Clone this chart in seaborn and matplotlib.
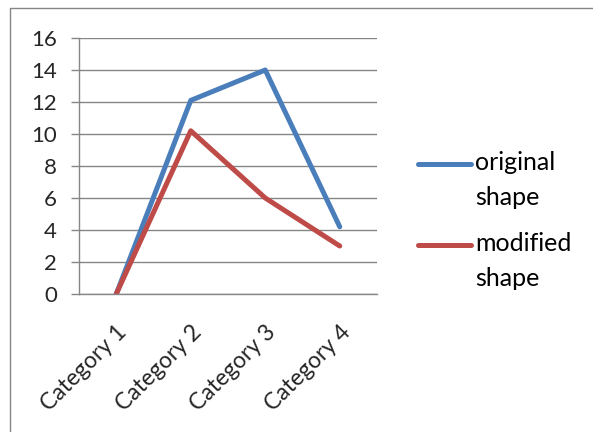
import matplotlib
matplotlib.use("Agg")
import matplotlib.pyplot as plt
from matplotlib.lines import Line2D
import seaborn as sns
import pandas as pd

categories = ["Category 1", "Category 2", "Category 3", "Category 4"]
original_shape = [0, 12.1, 14, 4.2]
modified_shape = [0, 10.2, 6, 3]
series_names = ["original\nshape", "modified\nshape"]
colors = ["#4A7EBB", "#BE4B48"]
y_ticks = [0, 2, 4, 6, 8, 10, 12, 14, 16]

df = pd.DataFrame({
    "category": categories * 2,
    "x": list(range(len(categories))) * 2,
    "value": original_shape + modified_shape,
    "series": [series_names[0]] * 4 + [series_names[1]] * 4,
})

sns.set_style("white")
plt.rcParams["font.family"] = ["Lato", "DejaVu Sans"]

W, H = 593, 432
fig = plt.figure(figsize=(W / 100, H / 100), dpi=100)
ax = fig.add_axes([79 / W, 1 - 294 / H, 298 / W, 256 / H])

sns.lineplot(data=df, x="x", y="value", hue="series", palette=colors,
             linewidth=3.6, ax=ax, legend=False, solid_capstyle="round")

grid_c = "#868686"
fs = 16
ax.set_xlim(-0.5, 3.5)
ax.set_ylim(0, 16)
ax.set_yticks(y_ticks)
ax.set_yticklabels([str(t) for t in y_ticks], fontsize=fs)
ax.yaxis.grid(True, color=grid_c, linewidth=1)
ax.set_axisbelow(True)
ax.set_xticks(range(len(categories)))
ax.set_xticklabels(categories, rotation=45, ha="right", rotation_mode="anchor",
                   fontsize=fs + 0.5)
ax.set_xticks([-0.5, 0.5, 1.5, 2.5, 3.5], minor=True)
ax.tick_params(axis="x", which="major", length=0, pad=20)
ax.tick_params(axis="x", which="minor", length=7, color=grid_c, width=1, direction="out")
ax.tick_params(axis="y", length=6, color=grid_c, width=1, direction="out", left=True, pad=10)
ax.set_xlabel("")
ax.set_ylabel("")
for s in ["top", "right"]:
    ax.spines[s].set_visible(False)
for s in ["left", "bottom"]:
    ax.spines[s].set_color(grid_c)
    ax.spines[s].set_linewidth(1)

# legend: key line level with the first line of each two-line label
for name, c, y_px in zip(series_names, colors, [164, 245]):
    fig.add_artist(Line2D([418 / W, 471 / W], [1 - y_px / H] * 2,
                          transform=fig.transFigure, color=c, linewidth=3.6,
                          solid_capstyle="round"))
    fig.text(475 / W, 1 - (y_px - 13) / H, name, fontsize=18, va="top", ha="left",
             linespacing=1.65, color="black")

# chart border
fig.add_artist(Line2D([10 / W, 10 / W], [0, 1 - 8 / H], transform=fig.transFigure,
                      color=grid_c, linewidth=1))
fig.add_artist(Line2D([10 / W, 1], [1 - 8 / H, 1 - 8 / H], transform=fig.transFigure,
                      color=grid_c, linewidth=1))

fig.savefig("out.png", dpi=100)
